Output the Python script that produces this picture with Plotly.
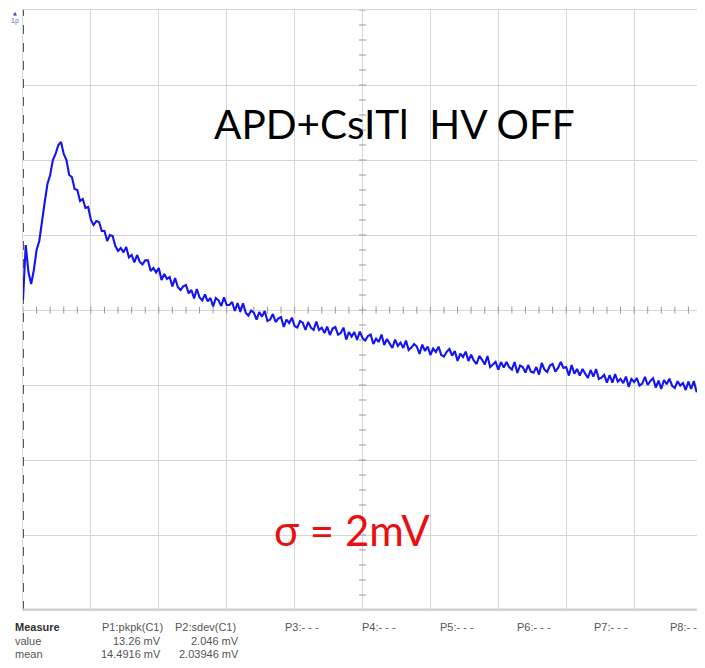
import numpy as np
import plotly.graph_objects as go

# ---------------- data ----------------
# sample interval: 0.04 division, 251 samples across 10 divisions
sample_step_div = 0.04
# signal in mV (3.75 mV / division, centre = 0 mV)
signal_mv = [
    0.50, 3.25, 1.90, 1.30, 2.00, 3.00, 3.45, 4.55, 5.40, 6.30,
    6.75, 7.50, 7.80, 8.25, 8.40, 7.80, 7.50, 6.75, 6.65, 6.05,
    6.00, 5.45, 5.55, 5.10, 5.15, 4.50, 4.25, 4.45, 4.40, 3.95,
    3.95, 3.45, 3.75, 3.70, 3.20, 2.95, 3.10, 2.88, 3.15, 2.63,
    2.75, 2.38, 2.75, 2.40, 2.28, 2.48, 2.48, 1.95, 2.10, 1.88,
    2.10, 1.50, 1.80, 1.55, 1.65, 1.18, 1.60, 1.15, 1.00, 1.18,
    1.25, 0.83, 1.00, 0.58, 1.05, 0.63, 0.48, 0.78, 0.43, 0.60,
    0.18, 0.60, 0.48, 0.20, 0.63, 0.25, 0.25, 0.40, -0.05, 0.35,
    -0.08, 0.33, -0.13, -0.28, -0.03, -0.13, -0.48, -0.10, -0.33, -0.05,
    -0.55, -0.48, -0.20, -0.60, -0.43, -0.35, -0.85, -0.48, -0.65, -0.38,
    -0.80, -0.88, -0.55, -0.63, -1.00, -0.60, -0.88, -1.00, -0.58, -1.00,
    -0.88, -1.15, -0.83, -1.25, -0.93, -0.85, -1.23, -1.15, -0.88, -1.48,
    -1.10, -1.33, -1.10, -1.50, -1.08, -1.40, -1.53, -1.30, -1.23, -1.70,
    -1.43, -1.60, -1.23, -1.75, -1.45, -1.68, -1.90, -1.48, -1.80, -1.63,
    -1.90, -1.53, -2.00, -1.88, -1.70, -1.83, -2.20, -1.73, -2.05, -1.83,
    -2.25, -1.93, -2.10, -1.83, -2.25, -2.33, -2.09, -1.95, -2.28, -2.05,
    -2.55, -2.18, -2.35, -2.08, -2.55, -2.23, -2.53, -2.70, -2.30, -2.48,
    -2.73, -2.30, -2.85, -2.73, -2.60, -2.98, -2.60, -2.88, -2.60, -2.85,
    -2.98, -2.60, -3.15, -2.78, -2.85, -3.13, -2.75, -3.08, -3.13, -2.85,
    -3.23, -2.65, -2.98, -3.10, -2.78, -2.70, -3.08, -2.90, -2.60, -2.90,
    -2.85, -3.28, -2.75, -3.18, -2.95, -3.28, -2.95, -3.18, -3.40, -3.00,
    -3.33, -2.95, -3.45, -3.38, -3.25, -3.63, -3.25, -3.63, -3.20, -3.58,
    -3.45, -3.66, -3.33, -3.84, -3.45, -3.60, -3.41, -3.78, -3.68, -3.34,
    -3.75, -3.55, -3.41, -3.88, -3.53, -3.95, -3.50, -3.71, -3.43, -3.79,
    -3.90, -3.56, -3.78, -3.65, -4.00, -3.58, -3.95, -3.55, -4.10, -3.95,
    -4.25,
]
time_div = [i * sample_step_div for i in range(len(signal_mv))]

# screen layout of the scope
n_xdiv = 10
n_ydiv = 8
mv_per_div = 3.75

# texts
label_main = "APD+CsITl  HV OFF"
label_sigma = "σ = 2mV"
meas_row_labels = ["Measure", "value", "mean"]
meas_params = ["P1:pkpk(C1)", "P2:sdev(C1)", "P3:- - -", "P4:- - -",
               "P5:- - -", "P6:- - -", "P7:- - -", "P8:- - -"]
meas_values = ["13.26 mV", "2.046 mV"]
meas_means = ["14.4916 mV", "2.03946 mV"]

# ---------------- figure ----------------
ymax = n_ydiv / 2 * mv_per_div
fig = go.Figure()

# centre-line graduation ticks
hx = np.arange(0, n_xdiv + 1e-9, 0.2)
fig.add_trace(go.Scatter(x=hx, y=np.zeros_like(hx), mode="markers",
                         marker=dict(symbol="line-ns", size=5,
                                     line=dict(color="#9a9a9a", width=1)),
                         hoverinfo="skip", showlegend=False))
vy = np.arange(-ymax, ymax + 1e-9, mv_per_div / 5)
fig.add_trace(go.Scatter(x=np.full_like(vy, n_xdiv / 2), y=vy, mode="markers",
                         marker=dict(symbol="line-ew", size=5,
                                     line=dict(color="#9a9a9a", width=1)),
                         hoverinfo="skip", showlegend=False))

# waveform
fig.add_trace(go.Scatter(x=time_div, y=signal_mv, mode="lines",
                         line=dict(color="#1414ee", width=2.1),
                         showlegend=False))

# trigger marker below the grid
fig.add_trace(go.Scatter(x=[0], y=[-ymax - 0.2], mode="markers",
                         marker=dict(symbol="triangle-up", size=8, color="#1a1ae0"),
                         cliponaxis=False, hoverinfo="skip", showlegend=False))

# left dashed border
fig.add_shape(type="line", x0=0, x1=0, y0=-ymax, y1=ymax, xref="x", yref="y",
              line=dict(color="#222222", width=1.5, dash="dash"))
# bottom border (slightly thicker grey)
fig.add_shape(type="line", x0=0, x1=n_xdiv, y0=-ymax, y1=-ymax, xref="x", yref="y",
              line=dict(color="#cfcfcf", width=3))

annotations = []
annotations.append(dict(x=(212 - 22.5) / 680, y=(610 - 123) / 600, xref="paper", yref="paper",
                        text=label_main, showarrow=False, xanchor="left", yanchor="middle",
                        font=dict(family="Lato", size=40.5, color="#000000")))
annotations.append(dict(x=(272 - 22.5) / 680, y=(610 - 530) / 600, xref="paper", yref="paper",
                        text=label_sigma, showarrow=False, xanchor="left", yanchor="middle",
                        font=dict(family="Lato", size=42, color="#e81010")))
# small channel marker top-left
annotations.append(dict(x=(14 - 22.5) / 680, y=(610 - 13) / 600, xref="paper", yref="paper",
                        text="▲", showarrow=False, xanchor="center", yanchor="middle",
                        font=dict(family="DejaVu Sans", size=5, color="#3050d0")))
annotations.append(dict(x=(14 - 22.5) / 680, y=(610 - 21) / 600, xref="paper", yref="paper",
                        text="1p", showarrow=False, xanchor="center", yanchor="middle",
                        font=dict(family="Liberation Sans", size=7, color="#5070d0")))

# measurement table
row_y = [627, 641, 654]
for lbl, yy in zip(meas_row_labels, row_y):
    annotations.append(dict(x=(12 - 22.5) / 680, y=(610 - yy) / 600, xref="paper", yref="paper",
                            text=("<b>%s</b>" % lbl) if lbl == "Measure" else lbl,
                            showarrow=False, xanchor="left", yanchor="middle",
                            font=dict(family="Liberation Sans", size=11,
                                      color="#303030" if lbl == "Measure" else "#555555")))
param_x = [100, 173, 283, 360, 438, 515, 592, 668]
for txt, xx in zip(meas_params, param_x):
    annotations.append(dict(x=(xx - 22.5) / 680, y=(610 - row_y[0]) / 600, xref="paper", yref="paper",
                            text=txt, showarrow=False, xanchor="left", yanchor="middle",
                            font=dict(family="Liberation Sans", size=11, color="#555555")))
col_right = [163, 241]
for vals, yy in ((meas_values, row_y[1]), (meas_means, row_y[2])):
    for txt, xr in zip(vals, col_right):
        annotations.append(dict(x=(xr - 22.5) / 680, y=(610 - yy) / 600, xref="paper", yref="paper",
                                text=txt, showarrow=False, xanchor="right", yanchor="middle",
                                font=dict(family="Liberation Sans", size=11, color="#555555")))

# the page body adds an 8 px margin, so the figure is sized to fit the window
fig.update_layout(
    width=697, height=660,
    margin=dict(l=14.5, r=2.5, t=2, b=58),
    paper_bgcolor="white", plot_bgcolor="white",
    annotations=annotations,
    xaxis=dict(range=[0, n_xdiv], dtick=1, tick0=0, showgrid=True, gridcolor="#d6d6d6",
               gridwidth=1, zeroline=False, showticklabels=False, ticks="",
               showline=True, linecolor="#d6d6d6", mirror=True, fixedrange=True),
    yaxis=dict(range=[-ymax, ymax], dtick=mv_per_div, tick0=-ymax, showgrid=True,
               gridcolor="#d6d6d6", gridwidth=1, zeroline=False, showticklabels=False,
               ticks="", showline=True, linecolor="#d6d6d6", mirror=True, fixedrange=True),
)

fig.write_html("out.html")
